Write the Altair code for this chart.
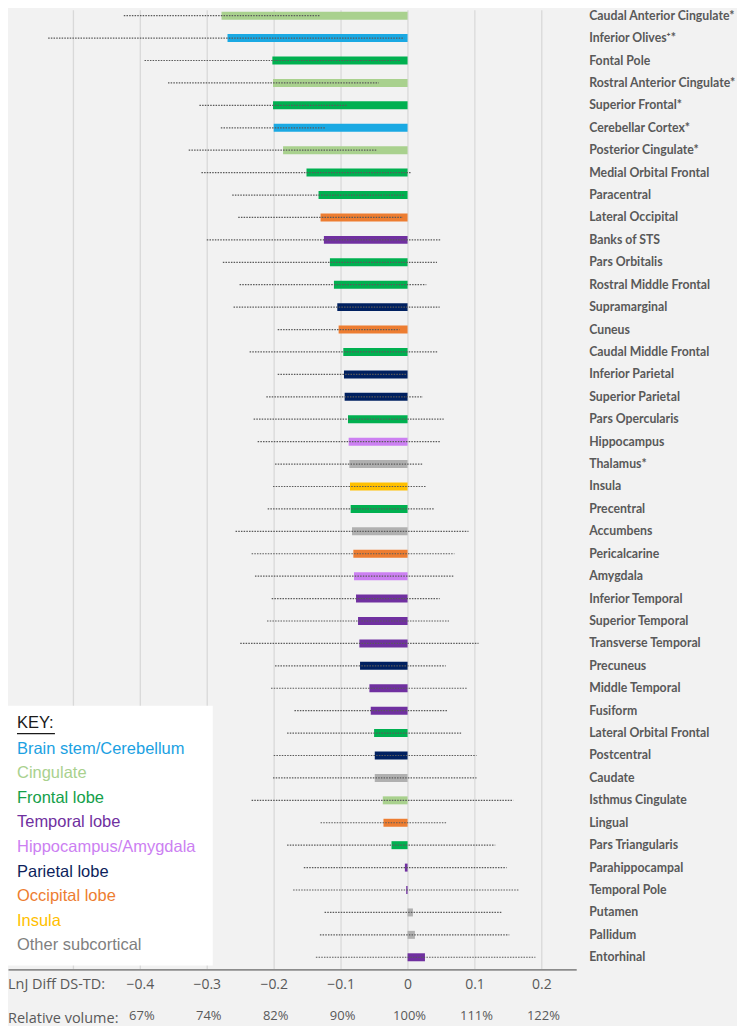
import altair as alt
import pandas as pd

# ---------------- data ----------------
regions = [
    "Caudal Anterior Cingulate*", "Inferior Olives\u207a*", "Fontal Pole",
    "Rostral Anterior Cingulate*", "Superior Frontal*", "Cerebellar Cortex*",
    "Posterior Cingulate*", "Medial Orbital Frontal", "Paracentral",
    "Lateral Occipital", "Banks of STS", "Pars Orbitalis",
    "Rostral Middle Frontal", "Supramarginal", "Cuneus",
    "Caudal Middle Frontal", "Inferior Parietal", "Superior Parietal",
    "Pars Opercularis", "Hippocampus", "Thalamus*", "Insula", "Precentral",
    "Accumbens", "Pericalcarine", "Amygdala", "Inferior Temporal",
    "Superior Temporal", "Transverse Temporal", "Precuneus",
    "Middle Temporal", "Fusiform", "Lateral Orbital Frontal", "Postcentral",
    "Caudate", "Isthmus Cingulate", "Lingual", "Pars Triangularis",
    "Parahippocampal", "Temporal Pole", "Putamen", "Pallidum", "Entorhinal",
]

groups = [
    "Cingulate", "Brain stem/Cerebellum", "Frontal lobe", "Cingulate",
    "Frontal lobe", "Brain stem/Cerebellum", "Cingulate", "Frontal lobe",
    "Frontal lobe", "Occipital lobe", "Temporal lobe", "Frontal lobe",
    "Frontal lobe", "Parietal lobe", "Occipital lobe", "Frontal lobe",
    "Parietal lobe", "Parietal lobe", "Frontal lobe", "Hippocampus/Amygdala",
    "Other subcortical", "Insula", "Frontal lobe", "Other subcortical",
    "Occipital lobe", "Hippocampus/Amygdala", "Temporal lobe", "Temporal lobe",
    "Temporal lobe", "Parietal lobe", "Temporal lobe", "Temporal lobe",
    "Frontal lobe", "Parietal lobe", "Other subcortical", "Cingulate",
    "Occipital lobe", "Frontal lobe", "Temporal lobe", "Temporal lobe",
    "Other subcortical", "Other subcortical", "Temporal lobe",
]

ln_diff = [
    -0.278, -0.269, -0.202, -0.201, -0.201, -0.200, -0.186, -0.151, -0.133,
    -0.130, -0.125, -0.116, -0.110, -0.105, -0.103, -0.096, -0.095, -0.094,
    -0.089, -0.088, -0.087, -0.086, -0.085, -0.083, -0.081, -0.080, -0.077,
    -0.074, -0.072, -0.071, -0.057, -0.055, -0.050, -0.049, -0.049, -0.037,
    -0.036, -0.024, -0.004, -0.002, 0.008, 0.011, 0.026,
]

err_low = [
    -0.424, -0.537, -0.393, -0.358, -0.311, -0.279, -0.327, -0.308, -0.262,
    -0.253, -0.300, -0.276, -0.251, -0.260, -0.194, -0.236, -0.194, -0.211,
    -0.230, -0.224, -0.198, -0.201, -0.209, -0.257, -0.233, -0.228, -0.203,
    -0.210, -0.250, -0.198, -0.204, -0.169, -0.180, -0.200, -0.201, -0.233,
    -0.130, -0.180, -0.155, -0.171, -0.124, -0.131, -0.137,
]

err_high = [
    -0.130, -0.005, -0.012, -0.043, -0.090, -0.123, -0.045, 0.006, -0.004,
    -0.007, 0.049, 0.044, 0.028, 0.048, -0.012, 0.045, -0.001, 0.023,
    0.054, 0.049, 0.022, 0.028, 0.039, 0.091, 0.070, 0.069, 0.048,
    0.062, 0.106, 0.057, 0.089, 0.060, 0.080, 0.103, 0.103, 0.158,
    0.059, 0.131, 0.148, 0.167, 0.141, 0.152, 0.191,
]

key_groups = [
    "Brain stem/Cerebellum", "Cingulate", "Frontal lobe", "Temporal lobe",
    "Hippocampus/Amygdala", "Parietal lobe", "Occipital lobe", "Insula",
    "Other subcortical",
]
bar_colors = [
    "#1aa9e3", "#a9d18e", "#00b050", "#7030a0", "#cc80f2", "#002060",
    "#ed7d31", "#ffc000", "#b0b0b0",
]
key_text_colors = [
    "#1ba1e2", "#a9d18e", "#14a04a", "#7030a0", "#cc80f2", "#0d1f5c",
    "#ed7d31", "#ffc000", "#7f7f7f",
]

grid_values = [-0.5, -0.4, -0.3, -0.2, -0.1, 0.0, 0.1, 0.2]
tick_values = [-0.4, -0.3, -0.2, -0.1, 0.0, 0.1, 0.2]
rel_volume = ["67%", "74%", "82%", "90%", "100%", "111%", "122%"]

# ---------------- frames ----------------
df = pd.DataFrame({
    "region": regions, "group": groups, "val": ln_diff,
    "lo": err_low, "hi": err_high, "idx": list(range(len(regions))),
})
key_df = pd.DataFrame({"label": key_groups, "kcolor": key_text_colors,
                       "k": list(range(len(key_groups)))})
rel_df = pd.DataFrame({"t": tick_values, "lab": rel_volume})
one = pd.DataFrame({"a": [0]})

W, H = 569, 961
GRAY = "#595959"
x_scale = alt.Scale(domain=[-0.597, 0.252], nice=False, zero=False, padding=0)
y_scale = alt.Scale(domain=[-0.267, 42.54], reverse=True, nice=False,
                    zero=False, padding=0)
x_axis = alt.Axis(
    values=grid_values, grid=True, gridColor="#d9d9d9", gridWidth=1.3,
    ticks=False, domainColor="#8c8c8c", domainWidth=1.6,
    labelExpr="datum.value < -0.45 ? '' : format(datum.value, '.1~f')",
    labelFont="Open Sans", labelFontSize=14, labelColor=GRAY,
    labelPadding=8, title=None)

bars = alt.Chart(df).mark_bar(size=8, orient="horizontal").encode(
    x=alt.X("val:Q", scale=x_scale, axis=x_axis, title=None),
    x2=alt.datum(0),
    y=alt.Y("idx:Q", scale=y_scale, axis=None),
    color=alt.Color("group:N", scale=alt.Scale(domain=key_groups, range=bar_colors),
                    legend=None),
)

errs = alt.Chart(df).mark_rule(strokeDash=[1.5, 1.2], strokeWidth=1.2,
                               color="#5a5a5a").encode(
    x=alt.X("lo:Q", scale=x_scale, axis=x_axis, title=None),
    x2="hi:Q",
    y=alt.Y("idx:Q", scale=y_scale, axis=None),
)

labels = alt.Chart(df).mark_text(
    align="left", baseline="middle", font="Lato", fontWeight="bold",
    fontSize=12.3, color=GRAY,
).encode(
    x=alt.value(582),
    y=alt.Y("idx:Q", scale=y_scale, axis=None),
    text="region:N",
)

main = alt.layer(bars, errs, labels)

keybox = alt.Chart(one).mark_rect(color="white").encode(
    x=alt.value(0), x2=alt.value(205), y=alt.value(697), y2=alt.value(957))

key_title = alt.Chart(one).mark_text(
    text="KEY:", align="left", baseline="middle", font="Liberation Sans",
    fontSize=16.5, color="#1a1a1a").encode(x=alt.value(9), y=alt.value(714))

key_underline = alt.Chart(one).mark_rule(color="#1a1a1a", strokeWidth=1.2).encode(
    x=alt.value(9), x2=alt.value(47), y=alt.value(725))

key_entries = alt.Chart(key_df).mark_text(
    align="left", baseline="middle", font="Liberation Sans", fontSize=16.5,
).encode(
    x=alt.value(9),
    y=alt.Y("k:Q", scale=alt.Scale(domain=[0, 8], range=[740, 937]), axis=None),
    text="label:N",
    color=alt.Color("kcolor:N", scale=None),
)

lnj_label = alt.Chart(one).mark_text(
    text="LnJ Diff DS-TD:", align="left", baseline="middle", font="Open Sans",
    fontSize=14.5, color=GRAY).encode(x=alt.value(0), y=alt.value(977))

rel_label = alt.Chart(one).mark_text(
    text="Relative volume:", align="left", baseline="middle", font="Open Sans",
    fontSize=14.5, color=GRAY).encode(x=alt.value(0), y=alt.value(1011))

rel_ticks = alt.Chart(rel_df).mark_text(
    align="center", baseline="middle", font="Open Sans", fontSize=13,
    color=GRAY, dx=2).encode(
    x=alt.X("t:Q", scale=x_scale, axis=x_axis, title=None),
    y=alt.value(1008),
    text="lab:N",
)

chart = alt.layer(
    keybox, main, key_title, key_underline, key_entries,
    lnj_label, rel_label, rel_ticks,
).resolve_scale(y="independent", color="independent").properties(
    width=W, height=H, padding=0, background="#f2f2f2",
).configure_view(strokeWidth=0)

chart.save("out.html", embed_options={"renderer": "svg", "actions": False})
